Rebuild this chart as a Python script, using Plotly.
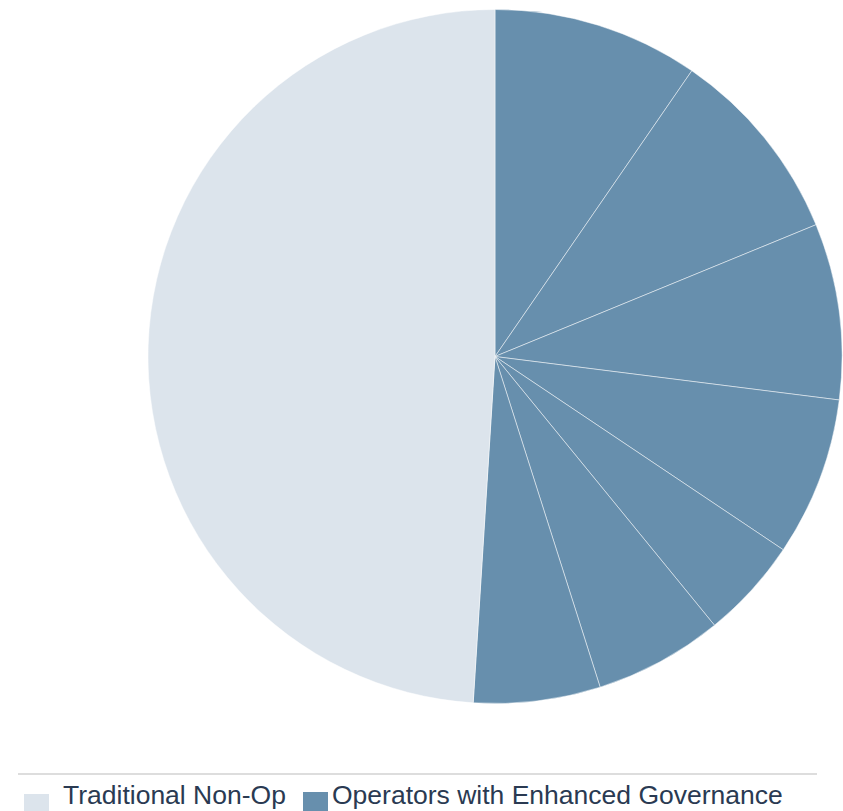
import plotly.graph_objects as go

W, H = 843, 811

# Data
legend_categories = ["Traditional Non-Op", "Operators with Enhanced Governance"]
segment_labels = [
    "Operators with Enhanced Governance A",
    "Operators with Enhanced Governance B",
    "Operators with Enhanced Governance C",
    "Operators with Enhanced Governance D",
    "Operators with Enhanced Governance E",
    "Operators with Enhanced Governance F",
    "Operators with Enhanced Governance G",
    "Traditional Non-Op",
]
segment_values = [9.6, 9.2, 8.2, 7.4, 4.7, 6.0, 5.9, 49.0]
segment_group = [1, 1, 1, 1, 1, 1, 1, 0]

colors = ["#dce4ec", "#678fad"]
text_color = "#2a3a52"


def px_x(x):
    return x / W


def px_y(y):
    return 1 - y / H


fig = go.Figure()
fig.add_trace(go.Pie(
    labels=segment_labels,
    values=segment_values,
    sort=False,
    direction="clockwise",
    rotation=0,
    marker=dict(colors=[colors[g] for g in segment_group],
                line=dict(color="rgba(255,255,255,0.8)", width=0.6)),
    textinfo="none",
    hoverinfo="label+percent",
    showlegend=False,
    domain=dict(x=[px_x(148), px_x(842)], y=[px_y(704), px_y(9)]),
))

shapes = [
    dict(type="line", xref="paper", yref="paper",
         x0=px_x(18), x1=px_x(817), y0=px_y(774), y1=px_y(774),
         line=dict(color="#dddddd", width=2)),
]
annotations = []
legend_sq_x = [24, 303]
legend_sq_y = [794, 792]
legend_txt_x = [61, 330]
for i, cat in enumerate(legend_categories):
    shapes.append(dict(type="rect", xref="paper", yref="paper",
                       x0=px_x(legend_sq_x[i]), x1=px_x(legend_sq_x[i] + 25),
                       y0=px_y(legend_sq_y[i]), y1=px_y(legend_sq_y[i] + 25),
                       fillcolor=colors[i], line=dict(width=0)))
    annotations.append(dict(text=cat, xref="paper", yref="paper",
                            x=px_x(legend_txt_x[i]), y=px_y(795),
                            xanchor="left", yanchor="middle", showarrow=False,
                            font=dict(family="Liberation Sans, Arial", size=26.5,
                                      color=text_color)))

fig.update_layout(
    width=W, height=H,
    margin=dict(l=0, r=0, t=0, b=0),
    paper_bgcolor="white",
    plot_bgcolor="white",
    shapes=shapes,
    annotations=annotations,
    showlegend=False,
)

fig.write_html("out.html")
